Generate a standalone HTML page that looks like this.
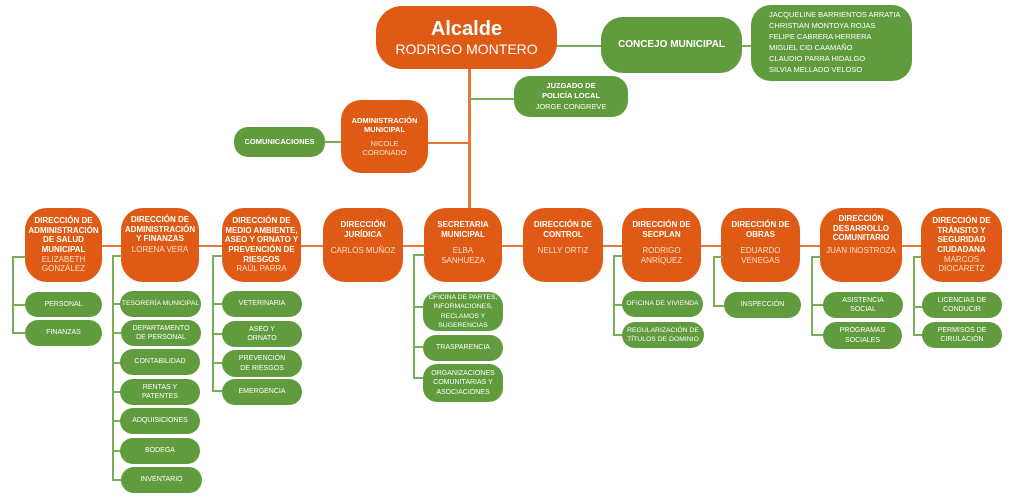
<!DOCTYPE html>
<html><head><meta charset="utf-8"><style>
body{margin:0;width:1024px;height:502px;background:#fff;position:relative;overflow:hidden;font-family:"Liberation Sans",sans-serif}
.b{position:absolute;display:flex;flex-direction:column;align-items:center;justify-content:center;text-align:center;color:#fff;box-sizing:border-box;line-height:1.2}
.o{background:#DF5A15;border-radius:22px}
.g{background:#609B3E;border-radius:14px;font-size:7px;line-height:1.35}
.t{font-weight:bold;font-size:8px;white-space:nowrap}
.n{font-size:8px;color:#fde0cc;margin-top:2px}
.l{position:absolute;background:#E9773A}
.gl{position:absolute;background:#78AE58}
</style></head><body>
<div class="l" style="left:468px;top:60px;width:3px;height:150px"></div>
<div class="l" style="left:100px;top:245px;width:822px;height:2px"></div>
<div class="l" style="left:425px;top:142px;width:45px;height:2px"></div>
<div class="gl" style="left:470px;top:98px;width:46px;height:2px"></div>
<div class="gl" style="left:555px;top:45px;width:48px;height:2px"></div>
<div class="gl" style="left:740px;top:45px;width:13px;height:2px"></div>
<div class="gl" style="left:322px;top:141px;width:22px;height:2px"></div>

<div class="b o" style="left:376px;top:6px;width:181px;height:63px;border-radius:26px"><div style="font-weight:bold;font-size:20px">Alcalde</div><div style="font-size:14px">RODRIGO MONTERO</div></div>
<div class="b g" style="left:601px;top:17px;width:141px;height:56px;border-radius:22px;font-size:10px;font-weight:bold">CONCEJO MUNICIPAL</div>
<div class="b g" style="left:751px;top:5px;width:161px;height:76px;border-radius:20px;font-size:7.5px;align-items:flex-start;padding-left:18px;text-align:left;line-height:1.45">JACQUELINE BARRIENTOS ARRATIA<br>CHRISTIAN MONTOYA ROJAS<br>FELIPE CABRERA HERRERA<br>MIGUEL CID CAAMAÑO<br>CLAUDIO PARRA HIDALGO<br>SILVIA MELLADO VELOSO</div>
<div class="b g" style="left:514px;top:76px;width:114px;height:41px;border-radius:16px"><div class="t" style="font-size:7.5px">JUZGADO DE<br>POLICÍA LOCAL</div><div style="font-size:7.5px">JORGE CONGREVE</div></div>
<div class="b o" style="left:341px;top:100px;width:87px;height:73px;border-radius:20px"><div class="t" style="font-size:7.5px">ADMINISTRACIÓN<br>MUNICIPAL</div><div class="n" style="font-size:7.5px;margin-top:5px">NICOLE<br>CORONADO</div></div>
<div class="b g" style="left:234px;top:127px;width:91px;height:30px;font-size:7.5px;font-weight:bold">COMUNICACIONES</div>

<div class="b o" style="left:25px;top:208px;width:77px;height:74px"><div class="t">DIRECCIÓN DE<br>ADMINISTRACIÓN<br>DE SALUD<br>MUNICIPAL</div><div class="n" style="margin-top:0">ELIZABETH<br>GONZÁLEZ</div></div>
<div class="b o" style="left:121px;top:208px;width:78px;height:74px;justify-content:flex-start;padding-top:7px"><div class="t">DIRECCIÓN DE<br>ADMINISTRACIÓN<br>Y FINANZAS</div><div class="n" style="margin-top:1px">LORENA VERA</div></div>
<div class="b o" style="left:222px;top:208px;width:79px;height:74px"><div class="t">DIRECCIÓN DE<br>MEDIO AMBIENTE,<br>ASEO Y ORNATO Y<br>PREVENCIÓN DE<br>RIESGOS</div><div class="n" style="margin-top:0">RAÚL PARRA</div></div>
<div class="b o" style="left:323px;top:208px;width:80px;height:74px;justify-content:flex-start;padding-top:12px"><div class="t">DIRECCIÓN<br>JURÍDICA</div><div class="n" style="margin-top:7px">CARLOS MUÑOZ</div></div>
<div class="b o" style="left:424px;top:208px;width:78px;height:74px;justify-content:flex-start;padding-top:12px"><div class="t">SECRETARIA<br>MUNICIPAL</div><div class="n" style="margin-top:7px">ELBA<br>SANHUEZA</div></div>
<div class="b o" style="left:523px;top:208px;width:80px;height:74px;justify-content:flex-start;padding-top:12px"><div class="t">DIRECCIÓN DE<br>CONTROL</div><div class="n" style="margin-top:7px">NELLY ORTIZ</div></div>
<div class="b o" style="left:622px;top:208px;width:79px;height:74px;justify-content:flex-start;padding-top:12px"><div class="t">DIRECCIÓN DE<br>SECPLAN</div><div class="n" style="margin-top:7px">RODRIGO<br>ANRÍQUEZ</div></div>
<div class="b o" style="left:721px;top:208px;width:79px;height:74px;justify-content:flex-start;padding-top:12px"><div class="t">DIRECCIÓN DE<br>OBRAS</div><div class="n" style="margin-top:7px">EDUARDO<br>VENEGAS</div></div>
<div class="b o" style="left:820px;top:208px;width:82px;height:74px;justify-content:flex-start;padding-top:6px"><div class="t">DIRECCIÓN<br>DESARROLLO<br>COMUNITARIO</div><div class="n" style="margin-top:3px">JUAN INOSTROZA</div></div>
<div class="b o" style="left:921px;top:208px;width:81px;height:74px"><div class="t">DIRECCIÓN DE<br>TRÁNSITO Y<br>SEGURIDAD<br>CIUDADANA</div><div class="n" style="margin-top:0">MARCOS<br>DIOCARETZ</div></div>

<div class="gl" style="left:12px;top:256px;width:2px;height:78px"></div>
<div class="gl" style="left:12px;top:256px;width:14px;height:2px"></div>
<div class="gl" style="left:12px;top:304px;width:14px;height:2px"></div>
<div class="gl" style="left:12px;top:332px;width:14px;height:2px"></div>

<div class="gl" style="left:112px;top:255px;width:2px;height:226px"></div>
<div class="gl" style="left:112px;top:255px;width:10px;height:2px"></div>
<div class="gl" style="left:112px;top:303px;width:10px;height:2px"></div>
<div class="gl" style="left:112px;top:332px;width:10px;height:2px"></div>
<div class="gl" style="left:112px;top:362px;width:10px;height:2px"></div>
<div class="gl" style="left:112px;top:391px;width:10px;height:2px"></div>
<div class="gl" style="left:112px;top:420px;width:10px;height:2px"></div>
<div class="gl" style="left:112px;top:450px;width:10px;height:2px"></div>
<div class="gl" style="left:112px;top:479px;width:10px;height:2px"></div>

<div class="gl" style="left:212px;top:255px;width:2px;height:137px"></div>
<div class="gl" style="left:212px;top:255px;width:11px;height:2px"></div>
<div class="gl" style="left:212px;top:303px;width:11px;height:2px"></div>
<div class="gl" style="left:212px;top:333px;width:11px;height:2px"></div>
<div class="gl" style="left:212px;top:362px;width:11px;height:2px"></div>
<div class="gl" style="left:212px;top:390px;width:11px;height:2px"></div>

<div class="gl" style="left:413px;top:254px;width:2px;height:125px"></div>
<div class="gl" style="left:413px;top:254px;width:12px;height:2px"></div>
<div class="gl" style="left:413px;top:306px;width:12px;height:2px"></div>
<div class="gl" style="left:413px;top:346px;width:12px;height:2px"></div>
<div class="gl" style="left:413px;top:377px;width:12px;height:2px"></div>

<div class="gl" style="left:613px;top:255px;width:2px;height:81px"></div>
<div class="gl" style="left:613px;top:255px;width:10px;height:2px"></div>
<div class="gl" style="left:613px;top:304px;width:10px;height:2px"></div>
<div class="gl" style="left:613px;top:334px;width:10px;height:2px"></div>

<div class="gl" style="left:713px;top:256px;width:2px;height:51px"></div>
<div class="gl" style="left:713px;top:256px;width:10px;height:2px"></div>
<div class="gl" style="left:713px;top:305px;width:12px;height:2px"></div>

<div class="gl" style="left:811px;top:256px;width:2px;height:80px"></div>
<div class="gl" style="left:811px;top:256px;width:10px;height:2px"></div>
<div class="gl" style="left:811px;top:304px;width:13px;height:2px"></div>
<div class="gl" style="left:811px;top:334px;width:13px;height:2px"></div>

<div class="gl" style="left:913px;top:256px;width:2px;height:80px"></div>
<div class="gl" style="left:913px;top:256px;width:9px;height:2px"></div>
<div class="gl" style="left:913px;top:306px;width:10px;height:2px"></div>
<div class="gl" style="left:913px;top:334px;width:10px;height:2px"></div>

<div class="b g" style="left:25px;top:292px;width:77px;height:25px">PERSONAL</div>
<div class="b g" style="left:25px;top:320px;width:77px;height:26px">FINANZAS</div>

<div class="b g" style="left:120px;top:291px;width:81px;height:26px;font-size:6.8px">TESORERÍA MUNICIPAL</div>
<div class="b g" style="left:121px;top:320px;width:80px;height:26px">DEPARTAMENTO<br>DE PERSONAL</div>
<div class="b g" style="left:120px;top:349px;width:80px;height:26px">CONTABILIDAD</div>
<div class="b g" style="left:120px;top:379px;width:80px;height:26px">RENTAS Y<br>PATENTES</div>
<div class="b g" style="left:120px;top:408px;width:80px;height:26px">ADQUISICIONES</div>
<div class="b g" style="left:120px;top:438px;width:80px;height:26px">BODEGA</div>
<div class="b g" style="left:121px;top:467px;width:81px;height:26px">INVENTARIO</div>

<div class="b g" style="left:222px;top:291px;width:80px;height:26px">VETERINARIA</div>
<div class="b g" style="left:222px;top:321px;width:80px;height:26px">ASEO Y<br>ORNATO</div>
<div class="b g" style="left:222px;top:350px;width:80px;height:27px">PREVENCIÓN<br>DE RIESGOS</div>
<div class="b g" style="left:222px;top:379px;width:80px;height:26px">EMERGENCIA</div>

<div class="b g" style="left:423px;top:292px;width:80px;height:39px;font-size:6.8px">OFICINA DE PARTES,<br>INFORMACIONES,<br>RECLAMOS Y<br>SUGERENCIAS</div>
<div class="b g" style="left:423px;top:335px;width:80px;height:26px">TRASPARENCIA</div>
<div class="b g" style="left:423px;top:364px;width:80px;height:38px">ORGANIZACIONES<br>COMUNITARIAS Y<br>ASOCIACIONES</div>

<div class="b g" style="left:622px;top:291px;width:81px;height:26px;font-size:6.8px">OFICINA DE VIVIENDA</div>
<div class="b g" style="left:622px;top:322px;width:82px;height:26px;font-size:6.8px">REGULARIZACIÓN DE<br>TÍTULOS DE DOMINIO</div>

<div class="b g" style="left:724px;top:292px;width:77px;height:26px">INSPECCIÓN</div>

<div class="b g" style="left:823px;top:292px;width:80px;height:26px">ASISTENCIA<br>SOCIAL</div>
<div class="b g" style="left:823px;top:322px;width:79px;height:27px">PROGRAMAS<br>SOCIALES</div>

<div class="b g" style="left:922px;top:292px;width:80px;height:26px">LICENCIAS DE<br>CONDUCIR</div>
<div class="b g" style="left:922px;top:322px;width:80px;height:26px">PERMISOS DE<br>CIRULACIÓN</div>
</body></html>
